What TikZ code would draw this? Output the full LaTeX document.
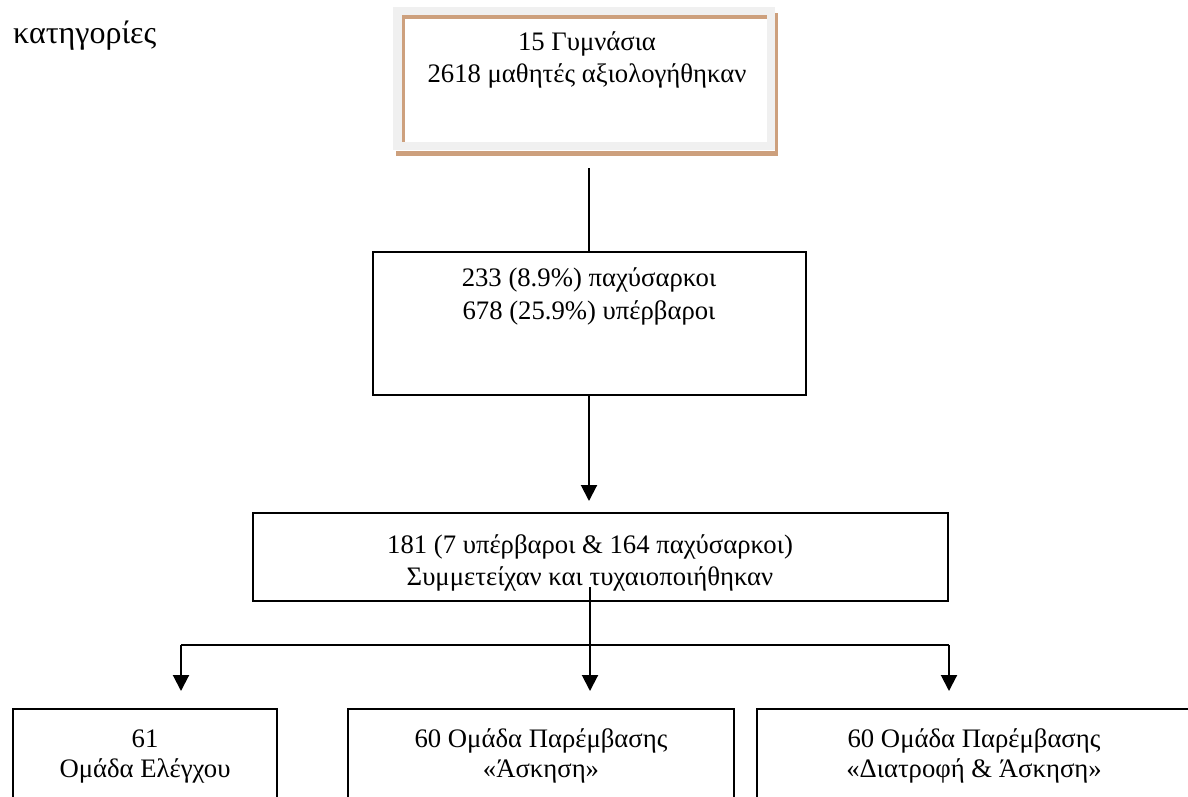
\documentclass[tikz,border=0pt]{standalone}
\usepackage{fontspec}
\setmainfont{Liberation Serif}
\usetikzlibrary{arrows.meta}
\definecolor{framebrown}{RGB}{205,160,125}
\definecolor{framegrey}{RGB}{240,240,240}
\begin{document}
\begin{tikzpicture}[x=1pt,y=-1pt,
  box/.style={draw=black, line width=2pt, rectangle, inner sep=0pt},
  txt/.style={font=\fontsize{26.7}{31}\selectfont, inner sep=0pt, anchor=base},
  conn/.style={draw=black, line width=2pt},
  arr/.style={conn, -{Triangle[width=16pt,length=16pt]}}]
\useasboundingbox (0,0) rectangle (1188,796);
\clip (0,0) rectangle (1188,796);
\fill[white] (0,0) rectangle (1188,796);

% top framed box
\fill[framegrey] (393,7) rectangle (775,150);
\fill[framebrown] (396,151) rectangle (778,156);
\fill[framebrown] (775,13) rectangle (778,156);
\fill[white] (405,19) rectangle (767,142);
\fill[framebrown] (402,15) rectangle (767,19);
\fill[framebrown] (402,15) rectangle (405,142);
\node[inner sep=0pt, minimum width=385pt, minimum height=149pt] (top) at (585.5,81.5) {};

% boxes
\node[box, minimum width=433pt, minimum height=143pt] (b2) at (589.5,323.5) {};
\node[box, minimum width=695pt, minimum height=88pt] (b3) at (600.5,557) {};
\node[box, minimum width=264pt, minimum height=141pt] (left) at (145,779.5) {};
\node[box, minimum width=386pt, minimum height=141pt] (mid) at (541,779.5) {};
\node[box, minimum width=463pt, minimum height=141pt] (right) at (988.5,779.5) {};

% texts
\node[txt, font=\fontsize{32}{36}\selectfont, anchor=base west] (kat) at (13,43) {κατηγορίες};
\node[txt] (t1a) at (587,50) {15 Γυμνάσια};
\node[txt] (t1b) at (587,82) {2618 μαθητές αξιολογήθηκαν};
\node[txt] (t2a) at (589,286) {233 (8.9\%) παχύσαρκοι};
\node[txt] (t2b) at (589,319) {678 (25.9\%) υπέρβαροι};
\node[txt] (t3a) at (590,553) {181 (7 υπέρβαροι \& 164 παχύσαρκοι)};
\node[txt] (t3b) at (590,585) {Συμμετείχαν και τυχαιοποιήθηκαν};
\node[txt] (t4a) at (145,747) {61};
\node[txt] (t4b) at (145,777) {Ομάδα Ελέγχου};
\node[txt] (t5a) at (541,747) {60 Ομάδα Παρέμβασης};
\node[txt] (t5b) at (541,777) {«Άσκηση»};
\node[txt] (t6a) at (974,747) {60 Ομάδα Παρέμβασης};
\node[txt] (t6b) at (974,777) {«Διατροφή \& Άσκηση»};

% connectors
\coordinate (c1) at (589,168);
\draw[conn] (c1) -- (b2.north -| c1);
\draw[arr, shorten >=11pt] (b2.south -| c1) -- (b3.north -| c1);
\coordinate (c2) at (590,587);
\coordinate (hl) at (181,645);
\coordinate (hr) at (949,645);
\draw[conn] (hl) -- (hr);
\draw[arr, shorten >=17pt] (c2) -- (c2 |- mid.north);
\draw[arr, shorten >=17pt] (hl) -- (hl |- left.north);
\draw[arr, shorten >=17pt] (hr) -- (hr |- right.north);
\end{tikzpicture}
\end{document}
